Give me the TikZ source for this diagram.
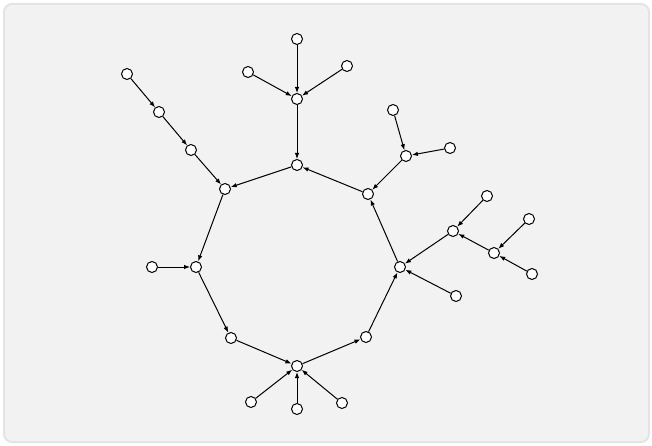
\documentclass[tikz,border=0pt]{standalone}
\usetikzlibrary{arrows.meta}
\definecolor{panel}{HTML}{F2F2F2}
\definecolor{panelline}{HTML}{E4E4E4}
\begin{document}
\begin{tikzpicture}[x=1pt,y=-1pt,
    vtx/.style={circle,draw,fill=white,line width=1pt,minimum size=11pt,inner sep=0pt},
    arc/.style={-{Latex[length=6pt,width=4.5pt]},line width=1pt}]
  \useasboundingbox (0,0) rectangle (652,446);
  \fill[white] (0,0) rectangle (652,446);
  \draw[panelline,fill=panel,line width=2pt,rounded corners=8pt] (4,4) rectangle (649,442);
  % cycle
  \node[vtx] (c1) at (297,165) {};
  \node[vtx] (c2) at (368,194) {};
  \node[vtx] (c3) at (400,267) {};
  \node[vtx] (c4) at (366,337) {};
  \node[vtx] (c5) at (297,366) {};
  \node[vtx] (c6) at (231,338) {};
  \node[vtx] (c7) at (196,267) {};
  \node[vtx] (c8) at (225,189) {};
  % top tree
  \node[vtx] (t) at (297,99) {};
  \node[vtx] (t1) at (297,39) {};
  \node[vtx] (t2) at (248,72) {};
  \node[vtx] (t3) at (347,66) {};
  % left chain
  \node[vtx] (l1) at (127,74) {};
  \node[vtx] (l2) at (159,112) {};
  \node[vtx] (l3) at (191,150) {};
  \node[vtx] (w) at (152,267) {};
  % upper right
  \node[vtx] (u) at (406,156) {};
  \node[vtx] (u1) at (393,110) {};
  \node[vtx] (u2) at (450,148) {};
  % right tree
  \node[vtx] (r) at (453,231) {};
  \node[vtx] (r1) at (487,196) {};
  \node[vtx] (r2) at (494,253) {};
  \node[vtx] (r3) at (529,219) {};
  \node[vtx] (r4) at (532,274) {};
  \node[vtx] (r5) at (456,296) {};
  % bottom
  \node[vtx] (b1) at (251,402) {};
  \node[vtx] (b2) at (297,409) {};
  \node[vtx] (b3) at (342,403) {};
  \foreach \s/\t in {c8/c7,c7/c6,c6/c5,c5/c4,c4/c3,c3/c2,c2/c1,c1/c8,
      t/c1,t1/t,t2/t,t3/t,l1/l2,l2/l3,l3/c8,w/c7,u/c2,u1/u,u2/u,
      r/c3,r1/r,r2/r,r3/r2,r4/r2,r5/c3,b1/c5,b2/c5,b3/c5}
    \draw[arc] (\s) -- (\t);
\end{tikzpicture}
\end{document}
